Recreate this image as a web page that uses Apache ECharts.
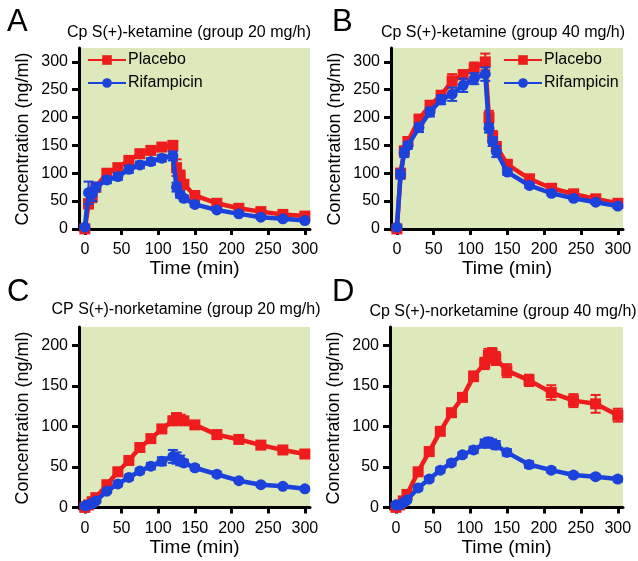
<!DOCTYPE html>
<html>
<head>
<meta charset="utf-8">
<script src="https://cdn.jsdelivr.net/npm/echarts@6/dist/echarts.min.js"></script>
<style>
html,body{margin:0;padding:0;background:#fff;}
#c{width:638px;height:561px;}
</style>
</head>
<body>
<div id="c"></div>
<script>
// ---- data ----
const times = [0, 5, 10, 15, 30, 45, 60, 75, 90, 105, 120, 125, 130, 135, 150, 180, 210, 240, 270, 300];
const xTicks = [0, 50, 100, 150, 200, 250, 300];
const yTicksKet = [0, 50, 100, 150, 200, 250, 300];
const yTicksNor = [0, 50, 100, 150, 200];

const ketA_placebo = [0, 45, 58, 75, 100, 110, 123, 135, 141, 147, 150, 110, 95, 80, 60, 46, 37, 31, 26, 23];
const ketA_placeboErr = [0, 8, 10, 6, 5, 6, 6, 7, 6, 6, 8, 15, 10, 8, 5, 4, 4, 3, 3, 3];
const ketA_rif = [3, 65, 62, 75, 88, 94, 107, 115, 121, 127, 131, 75, 62, 55, 44, 34, 27, 21, 18, 15];
const ketA_rifErr = [2, 20, 12, 8, 6, 6, 6, 6, 6, 6, 8, 8, 6, 5, 4, 3, 3, 3, 3, 3];

const ketB_placebo = [0, 100, 140, 157, 197, 222, 240, 266, 277, 289, 300, 200, 166, 148, 116, 90, 73, 63, 54, 46];
const ketB_placeboErr = [0, 8, 8, 6, 8, 8, 8, 12, 8, 10, 15, 12, 10, 8, 6, 5, 4, 4, 4, 4];
const ketB_rif = [3, 98, 137, 150, 182, 210, 232, 242, 258, 270, 278, 181, 157, 139, 102, 78, 64, 55, 48, 41];
const ketB_rifErr = [2, 8, 8, 6, 8, 8, 8, 12, 12, 10, 12, 8, 8, 10, 5, 4, 4, 4, 3, 3];

const norC_placebo = [0, 3, 7, 12, 28, 44, 58, 74, 85, 97, 107, 111, 109, 107, 102, 90, 84, 77, 71, 66];
const norC_placeboErr = [0, 1, 2, 3, 3, 3, 3, 3, 3, 4, 5, 5, 5, 4, 3, 3, 3, 3, 3, 3];
const norC_rif = [2, 3, 5, 8, 20, 29, 37, 45, 51, 57, 63, 61, 58, 55, 49, 41, 33, 28, 26, 23];
const norC_rifErr = [1, 1, 1, 2, 2, 3, 3, 3, 4, 5, 8, 7, 6, 4, 3, 3, 2, 2, 2, 2];

const norD_placebo = [0, 3, 8, 16, 44, 69, 94, 117, 136, 162, 178, 188, 190, 184, 169, 157, 142, 132, 128, 114];
const norD_placeboErr = [0, 1, 2, 3, 4, 5, 4, 5, 5, 6, 7, 8, 7, 8, 8, 7, 9, 8, 11, 8];
const norD_rif = [3, 3, 6, 9, 24, 35, 46, 55, 65, 71, 79, 81, 79, 77, 68, 53, 46, 40, 38, 35];
const norD_rifErr = [1, 1, 1, 2, 3, 3, 3, 3, 3, 4, 5, 5, 5, 5, 4, 4, 3, 3, 3, 3];

const titles = [
  'Cp S(+)-ketamine (group 20 mg/h)',
  'Cp S(+)-ketamine (group 40 mg/h)',
  'CP S(+)-norketamine (group 20 mg/h)',
  'Cp S(+)-norketamine (group 40 mg/h)'
];
const letters = ['A', 'B', 'C', 'D'];
const seriesNames = ['Placebo', 'Rifampicin'];

// ---- styles ----
const FONT = '"Liberation Sans", Arial, Helvetica, sans-serif';
const RED = '#ee1c1c';
const BLUE = '#1c42dc';
const BG = '#dde8bb';

const panels = [
  {grid: {left: 79, top: 48, width: 231, height: 182}, ymax: 325, yTicks: yTicksKet,
   p: ketA_placebo, pe: ketA_placeboErr, r: ketA_rif, re: ketA_rifErr},
  {grid: {left: 391, top: 48, width: 232, height: 182}, ymax: 325, yTicks: yTicksKet,
   p: ketB_placebo, pe: ketB_placeboErr, r: ketB_rif, re: ketB_rifErr},
  {grid: {left: 79, top: 327, width: 231, height: 182}, ymax: 223, yTicks: yTicksNor,
   p: norC_placebo, pe: norC_placeboErr, r: norC_rif, re: norC_rifErr},
  {grid: {left: 390, top: 327, width: 233, height: 182}, ymax: 223, yTicks: yTicksNor,
   p: norD_placebo, pe: norD_placeboErr, r: norD_rif, re: norD_rifErr}
];

const grid = [], xAxis = [], yAxis = [], series = [];

function errData(vals, errs) {
  return times.map((t, i) => [t, vals[i] - errs[i], vals[i] + errs[i]]);
}
function errRender(color) {
  return function (params, api) {
    const x = api.value(0);
    const lo = api.coord([x, api.value(1)]);
    const hi = api.coord([x, api.value(2)]);
    const cw = 5;
    const st = {stroke: color, lineWidth: 2};
    return {
      type: 'group',
      children: [
        {type: 'line', shape: {x1: lo[0], y1: lo[1], x2: hi[0], y2: hi[1]}, style: st},
        {type: 'line', shape: {x1: hi[0] - cw, y1: hi[1], x2: hi[0] + cw, y2: hi[1]}, style: st},
        {type: 'line', shape: {x1: lo[0] - cw, y1: lo[1], x2: lo[0] + cw, y2: lo[1]}, style: st}
      ]
    };
  };
}

panels.forEach((pn, k) => {
  grid.push(Object.assign({show: true, backgroundColor: BG, borderWidth: 0}, pn.grid));
  xAxis.push({
    type: 'value', gridIndex: k, min: -8, max: 307, offset: 3,
    name: 'Time (min)', nameLocation: 'middle', nameGap: 25,
    nameTextStyle: {fontSize: 19, color: '#000', fontFamily: FONT},
    axisLine: {show: true, lineStyle: {color: '#000', width: 3}},
    axisTick: {show: true, length: 6, lineStyle: {color: '#000', width: 3}, customValues: xTicks},
    axisLabel: {fontSize: 16, color: '#000', fontFamily: FONT, margin: 9, customValues: xTicks},
    splitLine: {show: false}
  });
  yAxis.push({
    type: 'value', gridIndex: k, min: -2, max: pn.ymax,
    name: 'Concentration (ng/ml)', nameLocation: 'middle', nameGap: 47, nameRotate: 90,
    nameTextStyle: {fontSize: 18, color: '#000', fontFamily: FONT},
    axisLine: {show: true, onZero: false, lineStyle: {color: '#000', width: 3}},
    axisTick: {show: true, length: 7, lineStyle: {color: '#000', width: 3}, customValues: pn.yTicks},
    axisLabel: {fontSize: 16, color: '#000', fontFamily: FONT, margin: 11, customValues: pn.yTicks},
    splitLine: {show: false}
  });
  series.push({
    type: 'custom', name: 'err-p' + k, xAxisIndex: k, yAxisIndex: k,
    renderItem: errRender(RED), data: errData(pn.p, pn.pe), encode: {x: 0, y: [1, 2]}, z: 2, silent: true
  });
  series.push({
    type: 'line', name: seriesNames[0], xAxisIndex: k, yAxisIndex: k,
    data: times.map((t, i) => [t, pn.p[i]]),
    symbol: 'rect', symbolSize: 11, showAllSymbol: true,
    lineStyle: {color: RED, width: 4.5}, itemStyle: {color: RED}, z: 3
  });
  series.push({
    type: 'custom', name: 'err-r' + k, xAxisIndex: k, yAxisIndex: k,
    renderItem: errRender(BLUE), data: errData(pn.r, pn.re), encode: {x: 0, y: [1, 2]}, z: 4, silent: true
  });
  series.push({
    type: 'line', name: seriesNames[1], xAxisIndex: k, yAxisIndex: k,
    data: times.map((t, i) => [t, pn.r[i]]),
    symbol: 'circle', symbolSize: 11, showAllSymbol: true,
    lineStyle: {color: BLUE, width: 4.5}, itemStyle: {color: BLUE}, z: 5
  });
});

const titleCenters = [[189, 25], [503, 25], [186, 302], [503, 304]];
const letterPos = [[7, 7], [332, 7], [7, 277], [332, 277]];
const title = [];
titles.forEach((t, k) => {
  title.push({text: t, left: titleCenters[k][0], top: titleCenters[k][1], textAlign: 'center', padding: 0,
    textStyle: {fontSize: 16, fontWeight: 'normal', color: '#000', fontFamily: FONT}});
  title.push({text: letters[k], left: letterPos[k][0], top: letterPos[k][1], padding: 0,
    textStyle: {fontSize: 31, fontWeight: 'normal', color: '#000', fontFamily: FONT}});
});

const legendCommon = {
  orient: 'vertical', data: seriesNames, itemWidth: 38, itemHeight: 12, itemGap: 7,
  selectedMode: false, padding: 0,
  textStyle: {fontSize: 16, color: '#000', fontFamily: FONT, padding: [0, 0, 0, -3]}
};
const legend = [
  Object.assign({left: 87, top: 52}, legendCommon),
  Object.assign({left: 503, top: 52}, legendCommon)
];

const chart = echarts.init(document.getElementById('c'), null, {renderer: 'canvas'});
chart.setOption({
  animation: false,
  backgroundColor: '#fff',
  title, legend, grid, xAxis, yAxis, series
});
</script>
</body>
</html>
